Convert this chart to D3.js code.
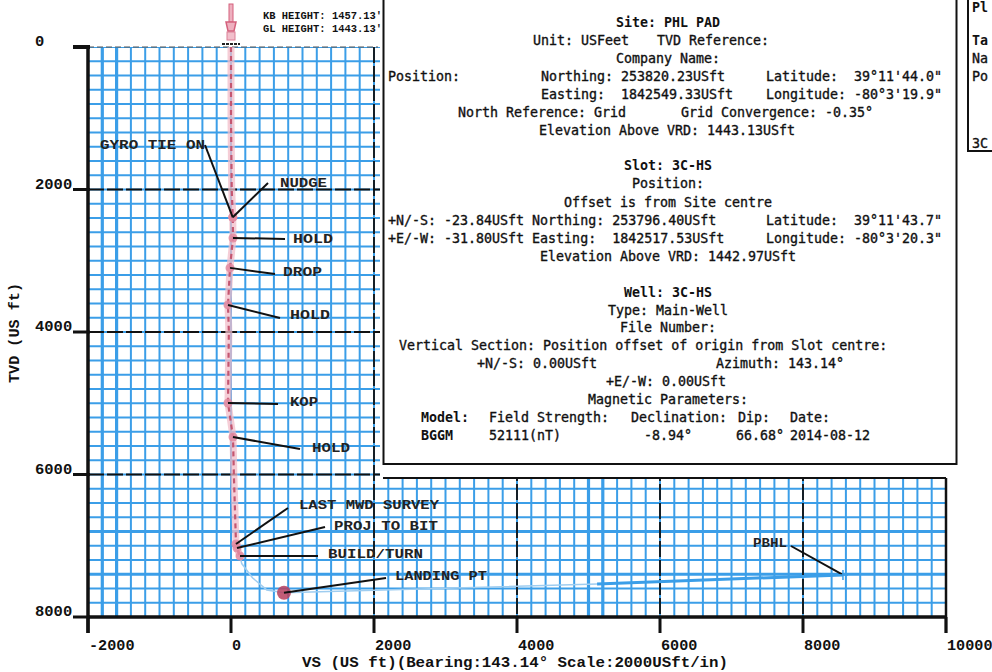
<!DOCTYPE html>
<html>
<head>
<meta charset="utf-8">
<script src="https://cdn.jsdelivr.net/npm/d3@7"></script>
<style>
  body { margin: 0; background: #fff; }
  svg { display: block; }
</style>
</head>
<body>
<div id="chart"></div>
<script>
// well path (vertical section vs true vertical depth)
const pathVS  = [0, 0, 10, 25, 28, -14, -42, -30, -42, 28, 40, 70, 84, 126];
const pathTVD = [0, 1000, 2000, 2390, 2680, 3100, 3620, 4000, 4996, 5474, 6000, 6975, 7032, 7144];
const buildVS  = [126, 150, 300, 500, 741, 5120];
const buildTVD = [7144, 7250, 7450, 7620, 7660, 7537];
const lateralVS  = [5120, 8559];
const lateralTVD = [7537, 7410];

// annotated stations
const markerNames = ["GYRO TIE ON", "NUDGE", "HOLD", "DROP", "HOLD", "KOP", "HOLD",
  "LAST MWD SURVEY", "PROJ TO BIT", "BUILD/TURN", "LANDING PT", "PBHL"];
const markerVS  = [25, 25, 28, -14, -42, -42, 28, 70, 84, 126, 741, 8559];
const markerTVD = [2390, 2390, 2680, 3100, 3620, 4996, 5474, 6975, 7032, 7144, 7660, 7410];

const xTicks = [-2000, 0, 2000, 4000, 6000, 8000, 10000];
const yTicks = [0, 2000, 4000, 6000, 8000];

const width = 992, height = 672;

const svg = d3.select("#chart").append("svg")
  .attr("width", width).attr("height", height);

const x = d3.scaleLinear().domain([-2000, 10000]).range([88, 946]);
const y = d3.scaleLinear().domain([0, 8000]).range([47, 617]);

// grid only shows where the header box does not cover it
const defs = svg.append("defs");
const clip = defs.append("clipPath").attr("id", "gridclip");
clip.append("rect").attr("x", 88).attr("y", 47).attr("width", 292).attr("height", 570);
clip.append("rect").attr("x", 88).attr("y", 478).attr("width", 858).attr("height", 139);

const grid = svg.append("g").attr("clip-path", "url(#gridclip)");
const blue = "#3b9ee8";
const minor = d3.range(-2000, 10001, 200);
const minorY = d3.range(0, 8001, 200);

grid.selectAll("line.v").data(minor).join("line")
  .attr("class", "v")
  .attr("x1", d => x(d)).attr("x2", d => x(d))
  .attr("y1", 47).attr("y2", 617)
  .attr("stroke", blue)
  .attr("stroke-width", d => (d === -1800 || d === -1600 || d === 5000 || d === 5200) ? 3.2 : 2);

grid.selectAll("line.h").data(minorY).join("line")
  .attr("class", "h")
  .attr("x1", 88).attr("x2", 946)
  .attr("y1", d => y(d)).attr("y2", d => y(d))
  .attr("stroke", blue)
  .attr("stroke-width", d => (d === 7400 || d === 6800) ? 3 : 2);

// major (2000 ft) dashed lines
grid.selectAll("line.mv").data([2000, 4000, 6000, 8000]).join("line")
  .attr("class", "mv")
  .attr("x1", d => x(d)).attr("x2", d => x(d))
  .attr("y1", 47).attr("y2", 617)
  .attr("stroke", "#111").attr("stroke-width", 1.8)
  .attr("stroke-dasharray", "16,3");

grid.selectAll("line.mh").data([2000, 4000, 6000]).join("line")
  .attr("class", "mh")
  .attr("x1", 88).attr("x2", 946)
  .attr("y1", d => y(d)).attr("y2", d => y(d))
  .attr("stroke", "#111").attr("stroke-width", 1.8)
  .attr("stroke-dasharray", "16,3");

svg.append("line")
  .attr("x1", 88).attr("x2", 378).attr("y1", y(0)).attr("y2", y(0))
  .attr("stroke", "#555").attr("stroke-width", 1.2).attr("stroke-dasharray", "6,3");

// frame
svg.append("line").attr("x1", x(-2000)).attr("x2", x(-2000)).attr("y1", y(0)).attr("y2", 633)
  .attr("stroke", "#111").attr("stroke-width", 3.5);
svg.append("line").attr("x1", x(-2000)).attr("x2", x(10000)).attr("y1", y(8000)).attr("y2", y(8000))
  .attr("stroke", "#111").attr("stroke-width", 3.5);
svg.append("line").attr("x1", x(10000)).attr("x2", x(10000)).attr("y1", 478).attr("y2", 633)
  .attr("stroke", "#111").attr("stroke-width", 2.5);
svg.append("line").attr("x1", 383).attr("x2", x(10000)).attr("y1", 478).attr("y2", 478)
  .attr("stroke", "#111").attr("stroke-width", 2);

// axes
const tickFont = "'Liberation Mono', 'Courier New', monospace";
svg.append("g").selectAll("line").data(yTicks).join("line")
  .attr("x1", 73).attr("x2", 90)
  .attr("y1", d => y(d)).attr("y2", d => y(d))
  .attr("stroke", "#111").attr("stroke-width", d => d === 0 ? 4 : 3);
svg.append("g").selectAll("text").data(yTicks).join("text")
  .attr("x", 35).attr("y", d => y(d) - 1)
  .attr("font-family", tickFont).attr("font-weight", "bold").attr("font-size", 14)
  .attr("fill", "#111")
  .attr("textLength", d => String(d).length * 9.3).attr("lengthAdjust", "spacingAndGlyphs")
  .text(d => d);

svg.append("g").selectAll("line").data(xTicks).join("line")
  .attr("x1", d => x(d)).attr("x2", d => x(d))
  .attr("y1", 617).attr("y2", 633)
  .attr("stroke", "#111").attr("stroke-width", 3);
svg.append("g").selectAll("text").data(xTicks).join("text")
  .attr("x", d => x(d) + 1).attr("y", 650)
  .attr("font-family", tickFont).attr("font-weight", "bold").attr("font-size", 14)
  .attr("fill", "#111")
  .attr("textLength", d => String(d).length * 9.1).attr("lengthAdjust", "spacingAndGlyphs")
  .text(d => d);

svg.append("text")
  .attr("x", 302).attr("y", 667)
  .attr("font-family", tickFont).attr("font-weight", "bold").attr("font-size", 14)
  .attr("fill", "#111")
  .attr("textLength", 426).attr("lengthAdjust", "spacingAndGlyphs")
  .text("VS (US ft)(Bearing:143.14° Scale:2000USft/in)");

svg.append("text")
  .attr("transform", "translate(19,383) rotate(-90)")
  .attr("font-family", tickFont).attr("font-weight", "bold").attr("font-size", 14)
  .attr("fill", "#111")
  .attr("textLength", 100).attr("lengthAdjust", "spacingAndGlyphs")
  .text("TVD (US ft)");

// well path
const line = d3.line().x(d => x(d[0])).y(d => y(d[1]));
const vertPts = pathVS.map((v, i) => [v, pathTVD[i]]);
const buildPts = buildVS.map((v, i) => [v, buildTVD[i]]);
const latPts = lateralVS.map((v, i) => [v, lateralTVD[i]]);

svg.append("path").datum(vertPts).attr("d", line)
  .attr("fill", "none").attr("stroke", "#f2bcc8").attr("stroke-width", 7).attr("opacity", 0.75);
svg.append("path").datum(vertPts).attr("d", line)
  .attr("fill", "none").attr("stroke", "#c45670").attr("stroke-width", 2.2)
  .attr("stroke-dasharray", "5,4");
svg.append("path").datum(buildPts).attr("d", line)
  .attr("fill", "none").attr("stroke", "#9fcdf0").attr("stroke-width", 1.5);
svg.append("path").datum(latPts).attr("d", line)
  .attr("fill", "none").attr("stroke", blue).attr("stroke-width", 3);

// station markers
svg.append("g").selectAll("circle").data(markerNames).join("circle")
  .attr("cx", (d, i) => x(markerVS[i])).attr("cy", (d, i) => y(markerTVD[i]))
  .attr("r", (d, i) => d === "LANDING PT" ? 7 : (d === "PBHL" ? 0 : 4.5))
  .attr("fill", d => d === "LANDING PT" ? "#b8405e" : "#e28aa0")
  .attr("opacity", 0.85);

// label placement: [text x, text baseline, leader end x, leader end y, text width]
const labelLayout = [
  [100, 149, 205, 145, 105],
  [280, 187, 268, 183, 47],
  [293, 243, 285, 239, 40],
  [283, 276, 275, 274, 39],
  [290, 319, 280, 318, 40],
  [290, 406, 278, 404, 28],
  [312, 452, 300, 449, 38],
  [299, 509, 288, 508, 140],
  [334, 530, 325, 527, 104],
  [328, 558, 318, 556, 95],
  [395, 580, 386, 578, 92],
  [753, 547, 791, 546, 34]
];

const labels = svg.append("g");
labels.selectAll("line").data(markerNames).join("line")
  .attr("x1", (d, i) => x(markerVS[i])).attr("y1", (d, i) => y(markerTVD[i]))
  .attr("x2", (d, i) => labelLayout[i][2]).attr("y2", (d, i) => labelLayout[i][3])
  .attr("stroke", "#111").attr("stroke-width", 2);
labels.selectAll("text").data(markerNames).join("text")
  .attr("x", (d, i) => labelLayout[i][0]).attr("y", (d, i) => labelLayout[i][1])
  .attr("font-family", tickFont).attr("font-weight", "bold").attr("font-size", 13)
  .attr("fill", "#222")
  .attr("textLength", (d, i) => labelLayout[i][4]).attr("lengthAdjust", "spacingAndGlyphs")
  .text(d => d);

// PBHL target cross
svg.append("path")
  .attr("d", `M${x(8559) - 5},${y(7410)}h10M${x(8559)},${y(7410) - 5}v10`)
  .attr("stroke", blue).attr("stroke-width", 1.5);

// rig symbol at surface
const rig = svg.append("g").attr("stroke", "#d4607c").attr("fill", "#eeb0bf");
rig.append("rect").attr("x", x(0) - 2).attr("y", 4).attr("width", 4).attr("height", 18);
rig.append("path").attr("d", `M${x(0) - 5},22h10l-2,9h-6z`).attr("stroke-width", 1.5);
rig.append("rect").attr("x", x(0) - 4).attr("y", 32).attr("width", 8).attr("height", 8).attr("opacity", 0.8);
svg.append("path").attr("d", `M${x(0) - 9},44h18`)
  .attr("stroke", "#222").attr("stroke-width", 2).attr("stroke-dasharray", "3,1");

const smallFont = "'Liberation Mono', 'Courier New', monospace";
svg.append("text").attr("x", 263).attr("y", 19)
  .attr("font-family", smallFont).attr("font-weight", "bold").attr("font-size", 10)
  .attr("fill", "#111").attr("textLength", 119).attr("lengthAdjust", "spacingAndGlyphs")
  .text("KB HEIGHT: 1457.13'");
svg.append("text").attr("x", 263).attr("y", 32)
  .attr("font-family", smallFont).attr("font-weight", "bold").attr("font-size", 10)
  .attr("fill", "#111").attr("textLength", 119).attr("lengthAdjust", "spacingAndGlyphs")
  .text("GL HEIGHT: 1443.13'");

// header info box
svg.append("rect").attr("x", 383.5).attr("y", -3).attr("width", 573).attr("height", 467)
  .attr("fill", "#fff").attr("stroke", "#111").attr("stroke-width", 2);
svg.append("rect").attr("x", 968).attr("y", -3).attr("width", 40).attr("height", 154)
  .attr("fill", "#fff").attr("stroke", "#111").attr("stroke-width", 2);

// [text, x, baseline, anchor, bold]
const infoLines = [
  ["Site: PHL PAD", 668, 27, "middle", true],
  ["Unit: USFeet", 533, 45, "start", false],
  ["TVD Reference:", 657, 45, "start", false],
  ["Company Name:", 668, 63, "middle", false],
  ["Position:", 388, 81, "start", false],
  ["Northing: 253820.23USft", 541, 81, "start", false],
  ["Latitude:  39°11'44.0\"", 766, 81, "start", false],
  ["Easting:  1842549.33USft", 541, 99, "start", false],
  ["Longitude: -80°3'19.9\"", 766, 99, "start", false],
  ["North Reference: Grid", 458, 117, "start", false],
  ["Grid Convergence: -0.35°", 681, 117, "start", false],
  ["Elevation Above VRD: 1443.13USft", 667, 135, "middle", false],
  ["Slot: 3C-HS", 668, 170, "middle", true],
  ["Position:", 668, 188, "middle", false],
  ["Offset is from Site centre", 668, 207, "middle", false],
  ["+N/-S: -23.84USft Northing: 253796.40USft", 388, 225, "start", false],
  ["Latitude:  39°11'43.7\"", 766, 225, "start", false],
  ["+E/-W: -31.80USft Easting:  1842517.53USft", 388, 243, "start", false],
  ["Longitude: -80°3'20.3\"", 766, 243, "start", false],
  ["Elevation Above VRD: 1442.97USft", 668, 261, "middle", false],
  ["Well: 3C-HS", 668, 297, "middle", true],
  ["Type: Main-Well", 668, 315, "middle", false],
  ["File Number:", 668, 332, "middle", false],
  ["Vertical Section: Position offset of origin from Slot centre:", 399, 350, "start", false],
  ["+N/-S: 0.00USft", 477, 368, "start", false],
  ["Azimuth: 143.14°", 716, 368, "start", false],
  ["+E/-W: 0.00USft", 606, 386, "start", false],
  ["Magnetic Parameters:", 668, 404, "middle", false],
  ["Model:", 421, 422, "start", true],
  ["Field Strength:", 489, 422, "start", false],
  ["Declination:", 631, 422, "start", false],
  ["Dip:", 738, 422, "start", false],
  ["Date:", 790, 422, "start", false],
  ["BGGM", 421, 440, "start", true],
  ["52111(nT)", 489, 440, "start", false],
  ["-8.94°", 644, 440, "start", false],
  ["66.68°", 736, 440, "start", false],
  ["2014-08-12", 790, 440, "start", false],
  ["Pl", 972, 12, "start", true],
  ["Ta", 972, 45, "start", true],
  ["Na", 972, 63, "start", false],
  ["Po", 972, 81, "start", false],
  ["3C", 972, 148, "start", false]
];

svg.append("g").selectAll("text").data(infoLines).join("text")
  .attr("x", d => d[1]).attr("y", d => d[2])
  .attr("text-anchor", d => d[3])
  .attr("font-family", "'DejaVu Sans Mono', monospace")
  .attr("font-size", 13.3)
  .attr("font-weight", d => d[4] ? "bold" : "normal")
  .attr("fill", "#111")
  .attr("stroke", "#111")
  .attr("stroke-width", d => d[4] ? 0 : 0.35)
  .attr("xml:space", "preserve")
  .style("white-space", "pre")
  .text(d => d[0]);
</script>
</body>
</html>
